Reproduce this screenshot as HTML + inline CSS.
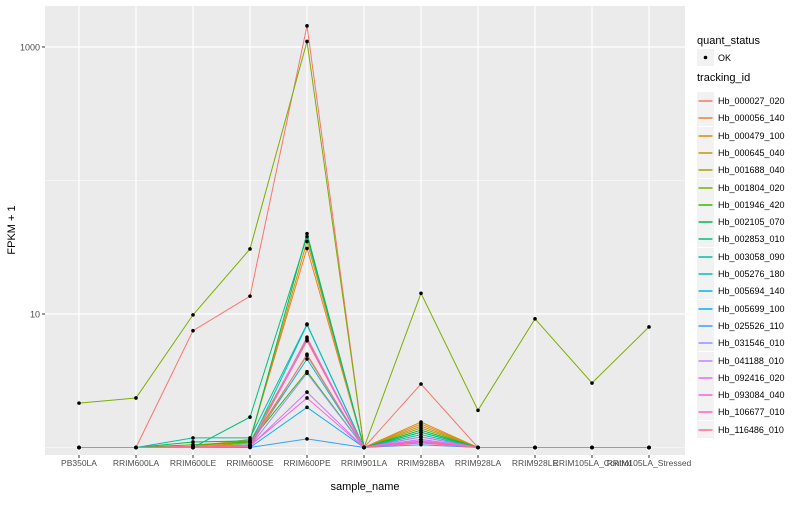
<!DOCTYPE html>
<html><head><meta charset="utf-8"><style>
body{margin:0;background:#fff;font-family:"Liberation Sans",sans-serif;}
svg text{font-family:"Liberation Sans",sans-serif;}
</style></head><body>
<svg id="chart" width="800" height="500"></svg>
<script>
const categories=["PB350LA","RRIM600LA","RRIM600LE","RRIM600SE","RRIM600PE","RRIM901LA","RRIM928BA","RRIM928LA","RRIM928LE","RRIM105LA_Control","RRIM105LA_Stressed"];
const seriesNames=["Hb_000027_020","Hb_000056_140","Hb_000479_100","Hb_000645_040","Hb_001688_040","Hb_001804_020","Hb_001946_420","Hb_002105_070","Hb_002853_010","Hb_003058_090","Hb_005276_180","Hb_005694_140","Hb_005699_100","Hb_025526_110","Hb_031546_010","Hb_041188_010","Hb_092416_020","Hb_093084_040","Hb_106677_010","Hb_116486_010"];
const s00=[1,1,7.5,13.6,1440,1,2.99,1,1,1,1];
const s01=[1,1,1.02,1.15,31,1,1.5,1,1,1,1];
const s02=[1,1,1.02,1.12,35,1,1.55,1,1,1,1];
const s03=[1,1,1,1.1,6.5,1,1.45,1,1,1,1];
const s04=[1,1,1,1.08,4.9,1,1.4,1,1,1,1];
const s05=[2.15,2.35,9.85,30.7,1100,1,14.3,1.9,9.2,3.04,8.0];
const s06=[1,1,1.05,1.1,3.7,1,1.3,1,1,1,1];
const s07=[1,1,1.1,1.12,40,1,1.35,1,1,1,1];
const s08=[1,1,1,1.69,38,1,1.3,1,1,1,1];
const s09=[1,1,1.18,1.18,8.4,1,1.25,1,1,1,1];
const s10=[1,1,1,1.05,8.3,1,1.2,1,1,1,1];
const s11=[1,1,1,1.05,4.6,1,1.15,1,1,1,1];
const s12=[1,1,1,1,2.0,1,1.1,1,1,1,1];
const s13=[1,1,1,1,1.16,1,1.05,1,1,1,1];
const s14=[1,1,1,1.02,3.6,1,1.1,1,1,1,1];
const s15=[1,1,1,1.02,2.6,1,1.15,1,1,1,1];
const s16=[1,1,1,1.03,6.7,1,1.2,1,1,1,1];
const s17=[1,1,1,1.03,2.35,1,1.1,1,1,1,1];
const s18=[1,1,1.02,1.04,6.3,1,1.12,1,1,1,1];
const s19=[1,1,1.02,1.02,5.0,1,1.08,1,1,1,1];
const seriesValues=[s00,s01,s02,s03,s04,s05,s06,s07,s08,s09,s10,s11,s12,s13,s14,s15,s16,s17,s18,s19];
const yTickValues=[10,1000];
const yTickLabels=["10","1000"];
const yMinorValues=[1,100];
const colors=["#F8766D","#EA8331","#D89000","#C09B00","#A3A500","#7CAE00","#39B600","#00BB4E","#00BF7D","#00C1A3","#00BFC4","#00BAE0","#00B0F6","#35A2FF","#9590FF","#C77CFF","#E76BF3","#FA62DB","#FF62BC","#FF6C91"];

const NS="http://www.w3.org/2000/svg";
const svg=document.getElementById('chart');
function mk(tag,attrs,parent){const e=document.createElementNS(NS,tag);for(const k in attrs)e.setAttribute(k,attrs[k]);(parent||svg).appendChild(e);return e;}
const P={l:45,r:685,t:6,b:455};
const x0=79,x1=649;
function xs(i){return x0+i*(x1-x0)/(categories.length-1);}
function ys(v){return 447.5-133.5*Math.log10(v);}

const panel=mk('rect',{x:P.l,y:P.t,width:P.r-P.l,height:P.b-P.t,fill:'#EBEBEB'});


yMinorValues.forEach(v=>{const l=mk('line',{x1:P.l,x2:P.r,y1:ys(v),y2:ys(v),stroke:'#fff','stroke-width':0.6});

});
yTickValues.forEach((v,i)=>{const l=mk('line',{x1:P.l,x2:P.r,y1:ys(v),y2:ys(v),stroke:'#fff','stroke-width':1.2});


const tk=mk('line',{x1:P.l-3,x2:P.l,y1:ys(v),y2:ys(v),stroke:'#333','stroke-width':1});


const t=mk('text',{x:P.l-5,y:ys(v)+3.5,'text-anchor':'end','font-size':9,fill:'#4D4D4D'});t.textContent=yTickLabels[i];

});
categories.forEach((c,i)=>{const l=mk('line',{x1:xs(i),x2:xs(i),y1:P.t,y2:P.b,stroke:'#fff','stroke-width':1.2});


const tk=mk('line',{x1:xs(i),x2:xs(i),y1:P.b,y2:P.b+3,stroke:'#333','stroke-width':1});


const t=mk('text',{x:xs(i),y:P.b+11,'text-anchor':'middle','font-size':8.5,fill:'#4D4D4D'});t.textContent=c;

});

seriesValues.forEach((vals,si)=>{const d=vals.map((v,i)=>(i?'L':'M')+xs(i).toFixed(1)+','+ys(v).toFixed(1)).join(' ');
const p=mk('path',{d:d,fill:'none',stroke:colors[si],'stroke-width':1});

});
seriesValues.forEach((vals,si)=>{vals.forEach((v,i)=>{const c=mk('circle',{cx:xs(i),cy:ys(v),r:1.8,fill:'#000'});

});});

const yt=mk('text',{x:15,y:230,'text-anchor':'middle','font-size':11,fill:'#000',transform:'rotate(-90 15 230)'});yt.textContent='FPKM + 1';


const xt=mk('text',{x:365,y:490,'text-anchor':'middle','font-size':11,fill:'#000'});xt.textContent='sample_name';



const lq=mk('text',{x:697,y:44,'font-size':11,fill:'#000'});lq.textContent='quant_status';


mk('rect',{x:697,y:49,width:17,height:17,fill:'#F2F2F2'});
mk('circle',{cx:705.5,cy:57.5,r:1.8,fill:'#000'});
const ok=mk('text',{x:718,y:61,'font-size':9,fill:'#000'});ok.textContent='OK';


const lt=mk('text',{x:697,y:81,'font-size':11,fill:'#000'});lt.textContent='tracking_id';


seriesNames.forEach((n,i)=>{const y=Math.round(92+i*17.3);
mk('rect',{x:697,y:y,width:17,height:17,fill:'#F2F2F2'});
mk('line',{x1:698.5,x2:712.5,y1:y+9,y2:y+9,stroke:colors[i],'stroke-width':1.5});
const t=mk('text',{x:718,y:y+12,'font-size':9,fill:'#000'});t.textContent=n;

});
</script>
</body></html>
